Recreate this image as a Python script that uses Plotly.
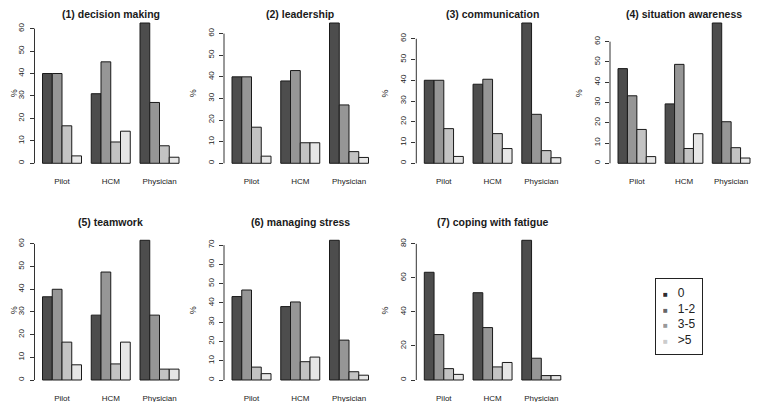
import plotly.graph_objects as go

# ---------------- data ----------------
groups = ["Pilot", "HCM", "Physician"]
series = ["0", "1-2", "3-5", ">5"]
titles = ["(1) decision making", "(2) leadership", "(3) communication",
          "(4) situation awareness", "(5) teamwork", "(6) managing stress",
          "(7) coping with fatigue"]

# each list: one series (0, 1-2, 3-5, >5), values for Pilot, HCM, Physician (%)
decision_making = [[40.0, 31.0, 62.5], [40.0, 45.2, 27.1], [16.7, 9.5, 7.8], [3.3, 14.3, 2.7]]
leadership = [[40.0, 38.1, 64.9], [40.0, 42.9, 27.0], [16.7, 9.5, 5.4], [3.3, 9.5, 2.7]]
communication = [[40.0, 38.1, 67.6], [40.0, 40.5, 23.6], [16.7, 14.3, 6.1], [3.3, 7.1, 2.7]]
situation_awareness = [[46.7, 29.3, 69.2], [33.3, 48.8, 20.5], [16.7, 7.3, 7.7], [3.3, 14.6, 2.6]]
teamwork = [[36.7, 28.6, 61.6], [40.0, 47.6, 28.6], [16.7, 7.1, 4.8], [6.7, 16.7, 4.8]]
managing_stress = [[43.3, 38.1, 72.5], [46.7, 40.5, 20.7], [6.7, 9.5, 4.3], [3.3, 11.9, 2.5]]
coping_with_fatigue = [[63.3, 51.3, 82.1], [26.7, 30.8, 12.8], [6.7, 7.7, 2.6], [3.3, 10.3, 2.6]]

tick_steps = [10, 10, 10, 10, 10, 10, 20]

# ---------------- style ----------------
panels = [decision_making, leadership, communication, situation_awareness,
          teamwork, managing_stress, coping_with_fatigue]
bar_colors = ["#4d4d4d", "#969696", "#c3c3c3", "#e6e6e6"]
legend_colors = ["#2e2e2e", "#666666", "#999999", "#cccccc"]
FONT = "Liberation Sans, Arial, Helvetica, sans-serif"

# page body has an 8px margin: work in window pixels and shift
OFF = 8
W, H = 759 - OFF, 402 - OFF
VIS_RIGHT = 751


def px_x(p):
    return (p - OFF) / W


def px_y(p):
    return 1 - (p - OFF) / H


bar_start_px = [42.5, 232.0, 424.3, 618.0]
bar_span_px = [136.5, 136.5, 136.5, 132.0]
gap_px = 8.0
row_top_px = [17.4, 234.7]
row_bot_px = [168.9, 385.6]

fig = go.Figure()
layout_axes = {}
annotations = []
shapes = []

for i, vals in enumerate(panels):
    n = i + 1
    row, col = divmod(i, 4)
    xa = "x" if n == 1 else f"x{n}"
    ya = "y" if n == 1 else f"y{n}"
    ppc = bar_span_px[col] / 2.8          # pixels per category unit
    left_px = bar_start_px[col] - gap_px
    right_px = left_px + bar_span_px[col] + 2 * gap_px
    clip_right = min(right_px, VIS_RIGHT)
    c_left = -0.4 - gap_px / ppc
    c_right = c_left + (clip_right - left_px) / ppc
    dom_x = [px_x(left_px), px_x(clip_right)]
    dom_y = [px_y(row_bot_px[row]), px_y(row_top_px[row])]

    for s, name in enumerate(series):
        fig.add_trace(go.Bar(
            x=groups, y=vals[s], name=name, showlegend=False,
            marker=dict(color=bar_colors[s], line=dict(color="#1a1a1a", width=1)),
            xaxis=xa, yaxis=ya, offsetgroup=str(s),
        ))

    M = max(max(v) for v in vals)
    step = tick_steps[i]
    tmax = int(M // step) * step
    ticks = list(range(0, tmax + 1, step))

    layout_axes["xaxis" if n == 1 else f"xaxis{n}"] = dict(
        domain=dom_x, range=[c_left, c_right], anchor=ya,
        showgrid=False, zeroline=False, showline=False, ticks="",
        tickfont=dict(size=8, color="#222", family=FONT),
        ticklabelstandoff=6, fixedrange=True,
    )
    layout_axes["yaxis" if n == 1 else f"yaxis{n}"] = dict(
        domain=dom_y, range=[-0.04 * M, 1.04 * M], anchor=xa,
        showgrid=False, zeroline=False, showline=False,
        tickvals=ticks, ticktext=[str(t) for t in ticks],
        ticks="outside", ticklen=4, tickwidth=1, tickcolor="#333",
        tickangle=-90, tickfont=dict(size=8, color="#222", family=FONT),
        ticklabelstandoff=2, fixedrange=True,
    )
    shapes.append(dict(type="line", xref=f"{xa} domain", yref=ya,
                       x0=0, x1=0, y0=0, y1=tmax,
                       line=dict(color="#333", width=1)))
    if row == 0:
        t_y, t_anchor = 1.0 + 2 / H, "top"
    else:
        t_y, t_anchor = px_y(row_top_px[row] - 13), "middle"
    annotations.append(dict(
        text=f"<b>{titles[i]}</b>", xref="paper", yref="paper",
        x=px_x((left_px + right_px) / 2), y=t_y,
        showarrow=False, xanchor="center", yanchor=t_anchor,
        font=dict(size=10.5, color="#1a1a1a", family=FONT)))
    annotations.append(dict(
        text="%", xref="paper", yref="paper", textangle=-90,
        x=px_x(max(left_px - 31, OFF + 6)),
        y=px_y((row_top_px[row] + row_bot_px[row]) / 2),
        showarrow=False, xanchor="center", yanchor="middle",
        font=dict(size=9, color="#222", family=FONT)))

# legend box (R-style: small filled squares + labels)
legend_lines = [
    f"<span style='font-size:8px;color:{c}'>■</span>&nbsp;&nbsp;&nbsp;{s}"
    for s, c in zip(series, legend_colors)
]
annotations.append(dict(
    text="<br>".join(legend_lines), xref="paper", yref="paper",
    x=px_x(655), y=px_y(278), xanchor="left", yanchor="top",
    align="left", showarrow=False, width=32,
    bordercolor="#222", borderwidth=1, borderpad=7, bgcolor="white",
    font=dict(size=12, color="#222", family=FONT)))

fig.update_layout(
    width=W, height=H, margin=dict(l=0, r=0, t=0, b=0),
    paper_bgcolor="white", plot_bgcolor="white",
    barmode="group", bargap=0.2, bargroupgap=0,
    font=dict(family=FONT, color="#222"),
    showlegend=False,
    annotations=annotations, shapes=shapes,
    **layout_axes,
)

fig.write_html("out.html")
